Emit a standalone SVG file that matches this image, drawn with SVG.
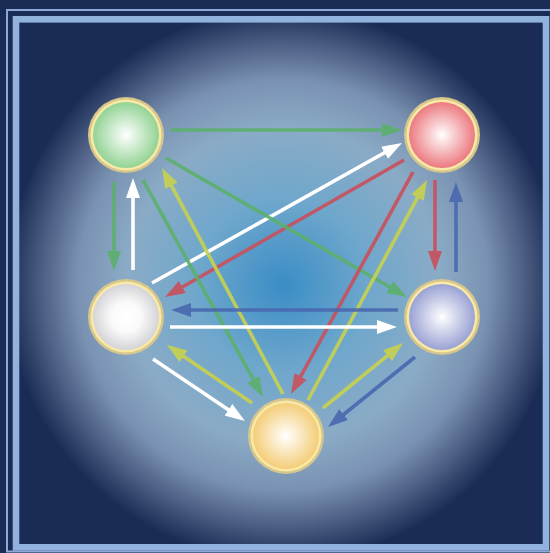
<svg xmlns="http://www.w3.org/2000/svg" width="550" height="553" viewBox="0 0 550 553">
<defs>
<radialGradient id="bg" cx="283" cy="285" r="285" gradientUnits="userSpaceOnUse">
<stop offset="0" stop-color="#3a8dc6"/>
<stop offset="0.3" stop-color="#6fa7cc"/>
<stop offset="0.55" stop-color="#8aabc6"/>
<stop offset="0.72" stop-color="#7a92b2"/>
<stop offset="0.86" stop-color="#48597f"/>
<stop offset="0.97" stop-color="#1a2b55"/>
</radialGradient>
<radialGradient id="gG" cx="0.5" cy="0.5" r="0.5"><stop offset="0" stop-color="#ffffff"/><stop offset="1" stop-color="#92d394"/></radialGradient>
<radialGradient id="gR" cx="0.5" cy="0.5" r="0.5"><stop offset="0" stop-color="#ffffff"/><stop offset="1" stop-color="#ec7a80"/></radialGradient>
<radialGradient id="gW" cx="0.5" cy="0.5" r="0.5"><stop offset="0" stop-color="#ffffff"/><stop offset="0.45" stop-color="#fafafa"/><stop offset="1" stop-color="#d4d4d8"/></radialGradient>
<radialGradient id="gB" cx="0.5" cy="0.5" r="0.5"><stop offset="0" stop-color="#ffffff"/><stop offset="1" stop-color="#9aa2d4"/></radialGradient>
<radialGradient id="gY" cx="0.5" cy="0.5" r="0.5"><stop offset="0" stop-color="#ffffff"/><stop offset="1" stop-color="#f4cd78"/></radialGradient>
<marker id="mG" markerUnits="userSpaceOnUse" markerWidth="20" markerHeight="14" refX="4" refY="7" orient="auto"><path d="M0,0 L20,7 L0,14 z" fill="#5cb06c"/></marker>
<marker id="mR" markerUnits="userSpaceOnUse" markerWidth="20" markerHeight="14" refX="4" refY="7" orient="auto"><path d="M0,0 L20,7 L0,14 z" fill="#c9505c"/></marker>
<marker id="mY" markerUnits="userSpaceOnUse" markerWidth="20" markerHeight="14" refX="4" refY="7" orient="auto"><path d="M0,0 L20,7 L0,14 z" fill="#c8d24e"/></marker>
<marker id="mB" markerUnits="userSpaceOnUse" markerWidth="20" markerHeight="14" refX="4" refY="7" orient="auto"><path d="M0,0 L20,7 L0,14 z" fill="#4a68b0"/></marker>
<marker id="mW" markerUnits="userSpaceOnUse" markerWidth="20" markerHeight="14" refX="4" refY="7" orient="auto"><path d="M0,0 L20,7 L0,14 z" fill="#ffffff"/></marker>
</defs>
<style>
.ring1{fill:#d6c68c}
.ring2{fill:#f8e9a6}
line{stroke-width:3.6;fill:none;opacity:0.9}
.g{stroke:#5cb06c;marker-end:url(#mG)}
.r{stroke:#c9505c;marker-end:url(#mR)}
.y{stroke:#c8d24e;marker-end:url(#mY)}
.b{stroke:#4a68b0;marker-end:url(#mB)}
.w{stroke:#ffffff;marker-end:url(#mW);opacity:1}
</style>
<rect x="0" y="0" width="550" height="553" fill="#1a2b55"/>
<rect x="7" y="10" width="550" height="541.5" fill="none" stroke="#8ea9d8" stroke-width="2"/>
<rect x="16" y="19.3" width="530" height="528" fill="url(#bg)" stroke="#92b2de" stroke-width="6.6"/>
<g id="connectors">
<line class="g" x1="171" y1="130" x2="386" y2="130"/>
<line class="w" x1="152" y1="283" x2="388" y2="150.8"/>
<line class="r" x1="404" y1="160" x2="178.9" y2="289"/>
<line class="g" x1="166" y1="158" x2="393.1" y2="289"/>
<line class="g" x1="114" y1="182" x2="114" y2="255"/>
<line class="w" x1="133" y1="270" x2="133" y2="194"/>
<line class="g" x1="143" y1="180" x2="255.3" y2="383"/>
<line class="y" x1="283" y1="394" x2="169.6" y2="182.1"/>
<line class="r" x1="413" y1="172" x2="298.7" y2="380"/>
<line class="y" x1="308" y1="400" x2="419.4" y2="194.1"/>
<line class="r" x1="435" y1="180" x2="435" y2="255"/>
<line class="b" x1="456" y1="272" x2="456" y2="198"/>
<line class="b" x1="398" y1="310" x2="187" y2="310"/>
<line class="w" x1="170" y1="327" x2="381" y2="327"/>
<line class="w" x1="153" y1="359" x2="231.7" y2="412.1"/>
<line class="y" x1="252" y1="403" x2="180.2" y2="354"/>
<line class="y" x1="323" y1="408" x2="390.6" y2="353.1"/>
<line class="b" x1="415" y1="357" x2="340.5" y2="417"/>
</g>
<g id="node-green"><circle class="ring1" cx="126" cy="135" r="38"/><circle class="ring2" cx="126" cy="135" r="35.5"/><circle cx="126" cy="135" r="33" fill="url(#gG)"/></g>
<g id="node-red"><circle class="ring1" cx="442" cy="135" r="38"/><circle class="ring2" cx="442" cy="135" r="35.5"/><circle cx="442" cy="135" r="33" fill="url(#gR)"/></g>
<g id="node-white"><circle class="ring1" cx="126" cy="317" r="38"/><circle class="ring2" cx="126" cy="317" r="35.5"/><circle cx="126" cy="317" r="33" fill="url(#gW)"/></g>
<g id="node-blue"><circle class="ring1" cx="442" cy="317" r="38"/><circle class="ring2" cx="442" cy="317" r="35.5"/><circle cx="442" cy="317" r="33" fill="url(#gB)"/></g>
<g id="node-yellow"><circle class="ring1" cx="286" cy="436" r="38"/><circle class="ring2" cx="286" cy="436" r="35.5"/><circle cx="286" cy="436" r="33" fill="url(#gY)"/></g>
</svg>
